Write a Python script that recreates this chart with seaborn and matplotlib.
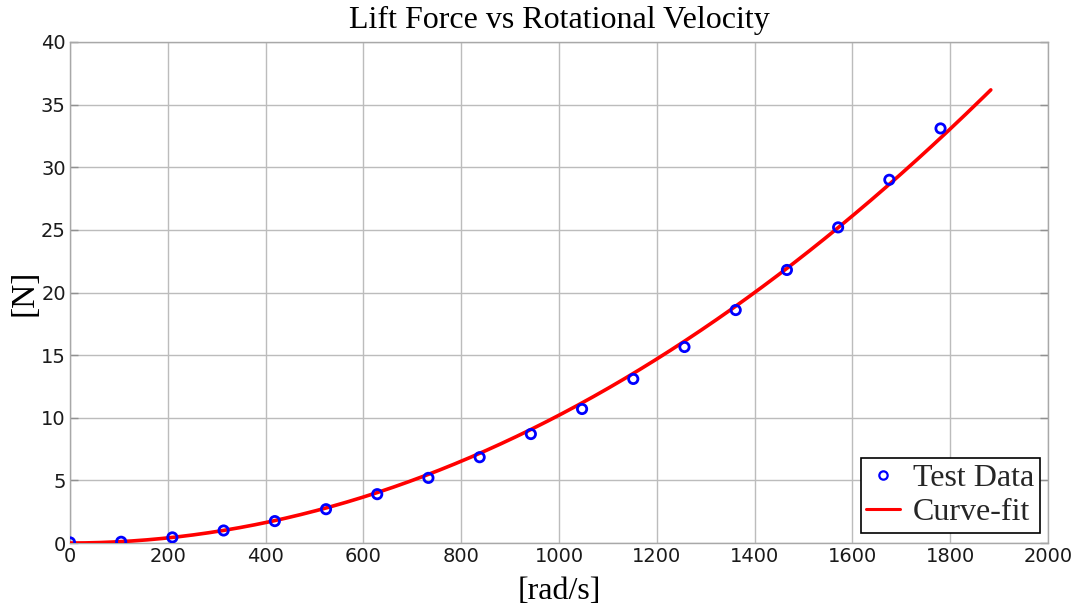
import numpy as np
import pandas as pd
import matplotlib
matplotlib.use("Agg")
import matplotlib.pyplot as plt
from matplotlib.lines import Line2D
import seaborn as sns

# Measured rotor speed and lift
omega = [0, 104.7, 209.4, 314.2, 418.9, 523.6, 628.3, 733.0, 837.8, 942.5,
         1047.2, 1151.9, 1256.6, 1361.4, 1466.1, 1570.8, 1675.5, 1780.2]
lift = [0.05, 0.1, 0.45, 1.0, 1.75, 2.7, 3.9, 5.2, 6.85, 8.7,
        10.7, 13.1, 15.65, 18.6, 21.8, 25.2, 29.0, 33.1]

# Range over which the fitted curve is evaluated
fit_range = [0, 1883]

x_ticks = [0, 200, 400, 600, 800, 1000, 1200, 1400, 1600, 1800, 2000]
y_ticks = [0, 5, 10, 15, 20, 25, 30, 35, 40]

# Least-squares fit of F = k * omega^2
w = np.asarray(omega)
f = np.asarray(lift)
k = np.sum(w**2 * f) / np.sum(w**4)
w_fit = np.linspace(fit_range[0], fit_range[1], 300)
fit_df = pd.DataFrame({"omega": w_fit, "lift": k * w_fit**2})
data_df = pd.DataFrame({"omega": omega, "lift": lift})

sns.set_theme(style="white")
serif = ["Liberation Serif", "DejaVu Serif"]
plt.rcParams["font.family"] = ["DejaVu Sans"]

fig = plt.figure(figsize=(10.83, 6.14), dpi=100)
ax = fig.add_axes([0.0646, 0.1156, 0.9031, 0.816])

sns.lineplot(data=fit_df, x="omega", y="lift", ax=ax, color="#ff0000",
             linewidth=2.6, zorder=3, legend=False)
sns.scatterplot(data=data_df, x="omega", y="lift", ax=ax, marker="o",
                s=45, facecolors="none", edgecolor="#0000ff", linewidth=2,
                zorder=4, legend=False)

ax.set_xlim(0, 2000)
ax.set_ylim(0, 40)
ax.set_xticks(x_ticks)
ax.set_yticks(y_ticks)
ax.grid(True, color="#bcbcbc", linewidth=1.0)
for s in ax.spines.values():
    s.set_color("#a8a8a8")
    s.set_linewidth(1.0)
ax.tick_params(axis="both", direction="in", length=6, width=1, color="#909090",
               labelsize=14, labelcolor="#1a1a1a", left=True, right=True,
               bottom=False, pad=3)

ax.set_title("Lift Force vs Rotational Velocity", family=serif, fontsize=23,
             pad=10, color="black")
ax.set_xlabel("[rad/s]", family=serif, fontsize=23, labelpad=8, color="black")
ax.set_ylabel("[N]", family=serif, fontsize=24, labelpad=1, color="black")

legend_handles = [
    Line2D([], [], linestyle="none", marker="o", markersize=6,
           markerfacecolor="none", markeredgecolor="#0000ff",
           markeredgewidth=1.6),
    Line2D([], [], color="#ff0000", linewidth=2.2),
]
leg = ax.legend(legend_handles, ["Test Data", "Curve-fit"],
                loc="lower right", prop={"family": serif, "size": 23},
                frameon=True, fancybox=False, edgecolor="black",
                framealpha=1, borderpad=0.18, handlelength=1.05,
                handletextpad=0.4, labelspacing=0.15, borderaxespad=0,
                bbox_to_anchor=(0.9915, 0.02))
leg.get_frame().set_linewidth(1.2)

fig.savefig("out.png", dpi=100)
